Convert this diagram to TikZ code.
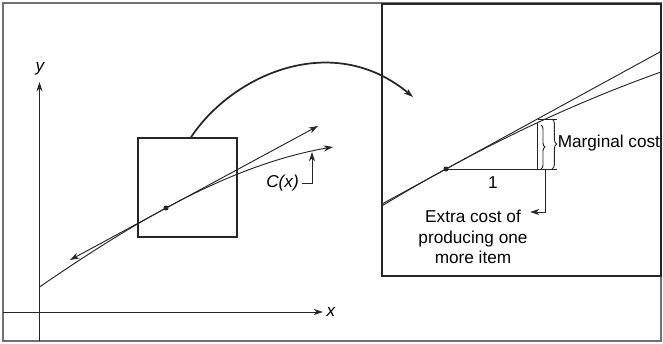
\documentclass[tikz,border=0pt]{standalone}
\usepackage{fontspec}
\setmainfont{Liberation Sans}
\usepackage{xcolor}
\definecolor{framegray}{HTML}{707070}
\definecolor{ink}{HTML}{262626}
\usetikzlibrary{arrows.meta, decorations.pathreplacing, calc}

\begin{document}
\begin{tikzpicture}[
  x=0.75pt, y=0.75pt,
  font=\fontsize{12.9}{15.4}\selectfont,
  every node/.style={align=center, inner sep=0pt},
  thinline/.style={ink, line width=0.7pt},
  tip/.style={-{Stealth[length=7pt, width=4.6pt]}},
  dotmark/.style={circle, fill=ink, inner sep=0pt, minimum size=3.8pt},
  declare function={
    ul(\t)=(\t-166)/100;
    costL(\t)=135+54*ul(\t)-8.31*ul(\t)*ul(\t)-1.289*ul(\t)*ul(\t)*ul(\t);
    ur(\t)=(\t-446)/100;
    costR(\t)=174+54.7*ur(\t)-4.46*ur(\t)*ur(\t);
  }
]
  \useasboundingbox (0,0) rectangle (663,343);
  \draw[framegray, line width=1.3pt] (3,2) rectangle (661,340);

  % axes
  \draw[thinline, tip] (3,31) -- (323,31);
  \draw[thinline, tip] (39.5,2) -- (39.5,261);
  \node (xlab) at (331,31) {\itshape x};
  \node (ylab) at (40,274) {\itshape y};

  % cost curve and its tangent
  \draw[thinline, tip] plot[domain=39.5:333, samples=60] (\x, {costL(\x)});
  \draw[thinline, {Stealth[length=7pt, width=4.6pt]}-{Stealth[length=7pt, width=4.6pt]}]
    (70,83) -- (318,217);
  \node[dotmark] (dotL) at (166,135) {};
  \node[anchor=east] (clab) at (299,160) {\itshape C(x)};
  \coordinate (ctip) at (312,191);
  \draw[thinline, tip] ([xshift=2.5pt]clab.east) -| (ctip);

  % zoom box
  \node[draw=ink, line width=1pt, minimum size=74.25pt] (box) at (187.5,155.5) {};
  \coordinate (zoomin) at (413,246);
  \draw[ink, line width=1.3pt, tip] ([xshift=2.6pt]box.north)
    .. controls (231.9,267.9) and (332.6,313.5) .. (zoomin);

  % enlarged view
  \draw[ink, line width=1.2pt] (382,67) rectangle (661,339);
  \draw[thinline] (382,139) -- (661,291.6);
  \draw[thinline] plot[domain=382:661, samples=60] (\x, {costR(\x)});
  \node[dotmark] (dotR) at (446,174) {};
  \draw[thinline] (dotR.center) -- (557,174);
  \draw[thinline] (537,174) -- (537,220);
  \draw[thinline] (538,224) -- (557,224);
  \node (one) at (493,160) {1};
  \draw[thinline, decorate, decoration={brace, amplitude=3pt}] (541,218) -- (541,174);
  \draw[thinline, decorate, decoration={brace, amplitude=3.5pt}] (552,224) -- (552,174);
  \node[anchor=west] (mclab) at (557.5,200) {Marginal cost};
  \node (extra) at (473,106) {Extra cost of\\producing one\\more item};
  \coordinate (etip) at (530,131);
  \draw[thinline, tip] (545,174) |- (etip);
\end{tikzpicture}
\end{document}
